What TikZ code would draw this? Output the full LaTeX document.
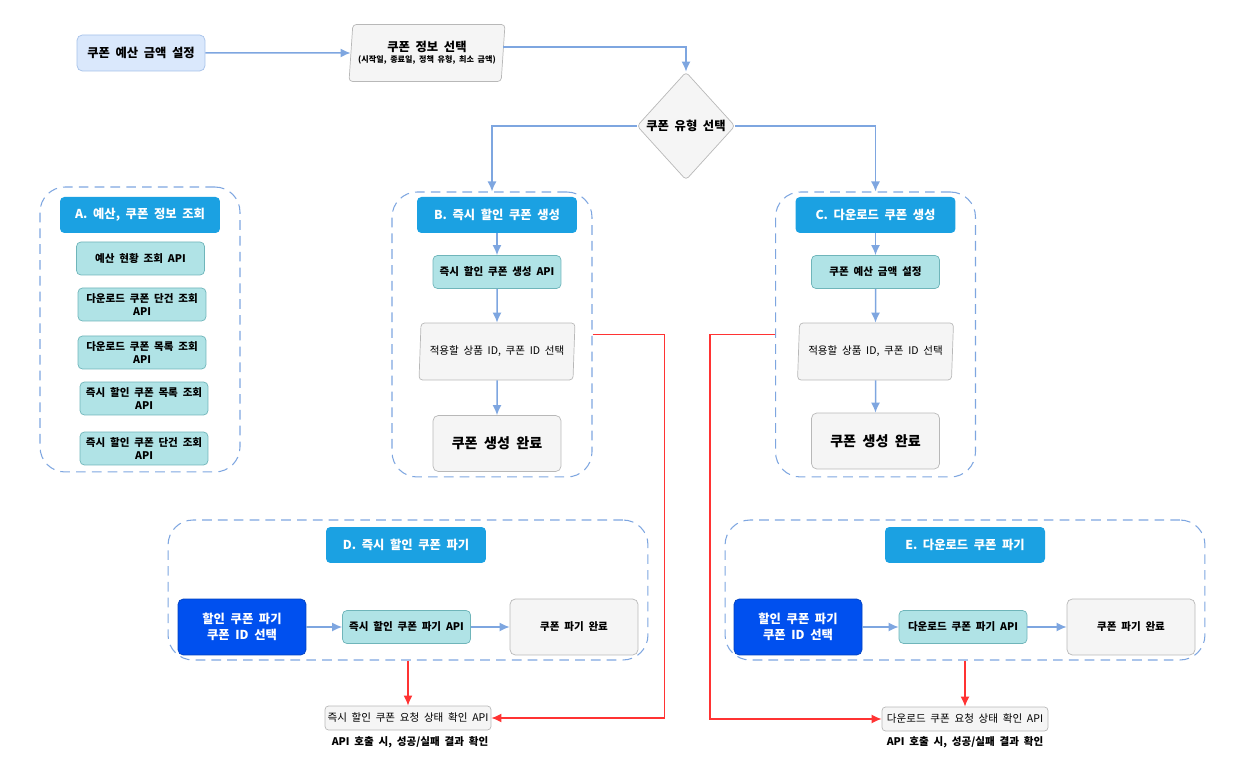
\documentclass[tikz,border=0pt]{standalone}
\usepackage{fontspec}
\setmainfont{Noto Sans CJK KR}[WordSpace=2]
\usepackage{tikz}
\usetikzlibrary{shapes.geometric, arrows.meta, positioning}

\definecolor{lineblue}{HTML}{7EA6E0}
\definecolor{boxblue}{HTML}{DAE8FC}
\definecolor{headblue}{HTML}{1BA1E2}
\definecolor{tealfill}{HTML}{B0E3E6}
\definecolor{tealline}{HTML}{6FB5BA}
\definecolor{grayfill}{HTML}{F5F5F5}
\definecolor{grayline}{HTML}{B8B8B8}
\definecolor{deepblue}{HTML}{0050EF}
\definecolor{alertred}{HTML}{FF3333}

\begin{document}
\begin{tikzpicture}[
    x=0.02cm, y=-0.02cm,
    every node/.style={font=\fontsize{6}{7.5}\selectfont\bfseries, inner sep=1pt, align=center},
    grp/.style={rectangle, rounded corners=0.5cm, draw=lineblue, line width=0.6pt,
                dash pattern=on 5.5pt off 3.5pt},
    head/.style={rectangle, rounded corners=2.5pt, fill=headblue, text=white,
                 minimum width=3.2cm, minimum height=0.72cm,
                 font=\fontsize{7}{8.5}\selectfont\bfseries},
    api/.style={rectangle, rounded corners=2.5pt, draw=tealline, fill=tealfill,
                minimum width=2.56cm, minimum height=0.66cm},
    done/.style={rectangle, rounded corners=3pt, draw=grayline, fill=grayfill,
                 minimum width=2.56cm, minimum height=1.12cm},
    pick/.style={rectangle, rounded corners=3pt, draw=deepblue!80!black, fill=deepblue,
                 text=white, minimum width=2.56cm, minimum height=1.12cm,
                 font=\fontsize{7}{9}\selectfont\bfseries},
    para/.style={trapezium, trapezium left angle=82, trapezium right angle=98,
                 trapezium stretches body, rounded corners=2pt, draw=grayline,
                 fill=grayfill, minimum width=3.12cm, minimum height=1.14cm},
    status/.style={rectangle, rounded corners=2pt, draw=grayline, fill=grayfill,
                   minimum width=3.32cm, minimum height=0.48cm,
                   font=\fontsize{6}{7.5}\selectfont},
    flow/.style={-{Latex[length=2mm, width=1.8mm]}, lineblue, line width=0.85pt},
    alert/.style={-{Latex[length=2mm, width=1.8mm]}, alertred, line width=0.85pt}
  ]
  \useasboundingbox (0,0) rectangle (1250,759);

  % Top row: budget, info and type choice
  \node[rectangle, rounded corners=3pt, draw=lineblue!70, fill=boxblue,
        minimum width=2.56cm, minimum height=0.72cm,
        font=\fontsize{7}{8.5}\selectfont\bfseries] (budget) at (141,53) {쿠폰 예산 금액 설정};
  \node[para] (info) at (427,53)
    {{\fontsize{7}{8.5}\selectfont 쿠폰 정보 선택}\\[-1pt]{\fontsize{4.6}{5.5}\selectfont (시작일, 종료일, 정책 유형, 최소 금액)}};
  \node[diamond, rounded corners=2pt, draw=grayline, fill=grayfill, inner sep=0pt,
        minimum width=1.96cm, minimum height=2.16cm,
        font=\fontsize{7}{8.5}\selectfont\bfseries] (type) at (686,126) {쿠폰 유형 선택};

  % Dashed groups
  \node[grp, minimum width=4cm, minimum height=5.7cm] (grpA) at (140,329.5) {};
  \node[grp, minimum width=4cm, minimum height=5.7cm] (grpB) at (492,334.5) {};
  \node[grp, minimum width=4cm, minimum height=5.7cm] (grpC) at (875.5,334.5) {};
  \node[grp, minimum width=9.6cm, minimum height=2.8cm] (grpD) at (408,590) {};
  \node[grp, minimum width=9.6cm, minimum height=2.8cm] (grpE) at (965,590) {};

  % Group A: lookup APIs
  \node[head] (headA) at (140,215) {A. 예산, 쿠폰 정보 조회};
  \node[api] (a1) at (140.5,258.5) {예산 현황 조회 API};
  \node[api] (a2) at (142,304.5) {다운로드 쿠폰 단건 조회\\API};
  \node[api] (a3) at (142,352.5) {다운로드 쿠폰 목록 조회\\API};
  \node[api] (a4) at (144,398.5) {즉시 할인 쿠폰 목록 조회\\API};
  \node[api] (a5) at (144,448.5) {즉시 할인 쿠폰 단건 조회\\API};

  % Group B: instant discount coupon
  \node[head] (headB) at (497,215) {B. 즉시 할인 쿠폰 생성};
  \node[api] (apiB) at (497,272) {즉시 할인 쿠폰 생성 API};
  \node[para, font=\fontsize{6}{7.5}\selectfont] (selB) at (497,351.5) {적용할 상품 ID, 쿠폰 ID 선택};
  \node[done, font=\fontsize{8}{9.5}\selectfont\bfseries] (doneB) at (497,443.5) {쿠폰 생성 완료};

  % Group C: download coupon
  \node[head] (headC) at (875.5,215) {C. 다운로드 쿠폰 생성};
  \node[api] (apiC) at (875.5,272) {쿠폰 예산 금액 설정};
  \node[para, font=\fontsize{6}{7.5}\selectfont] (selC) at (875.5,351.5) {적용할 상품 ID, 쿠폰 ID 선택};
  \node[done, font=\fontsize{8}{9.5}\selectfont\bfseries] (doneC) at (875.5,441) {쿠폰 생성 완료};

  % Group D: instant discount coupon removal
  \node[head] (headD) at (406,545) {D. 즉시 할인 쿠폰 파기};
  \node[pick] (pickD) at (242,627) {할인 쿠폰 파기\\쿠폰 ID 선택};
  \node[api] (apiD) at (406.5,627) {즉시 할인 쿠폰 파기 API};
  \node[done] (doneD) at (574,627) {쿠폰 파기 완료};

  % Group E: download coupon removal
  \node[head] (headE) at (965,545) {E. 다운로드 쿠폰 파기};
  \node[pick] (pickE) at (798,627) {할인 쿠폰 파기\\쿠폰 ID 선택};
  \node[api] (apiE) at (963,627) {다운로드 쿠폰 파기 API};
  \node[done] (doneE) at (1131,627) {쿠폰 파기 완료};

  % Status check APIs
  \node[status] (stD) at (408,718) {즉시 할인 쿠폰 요청 상태 확인 API};
  \node[status] (stE) at (965,719) {다운로드 쿠폰 요청 상태 확인 API};
  \node (noteD) at (410,742) {API 호출 시, 성공/실패 결과 확인};
  \node (noteE) at (965,742) {API 호출 시, 성공/실패 결과 확인};

  % Connections
  \draw[flow] (budget) -- (info);
  \draw[flow] ([yshift=0.12cm]info.east) -| (type.north);
  \draw[flow] (type.west) -| (grpB.north);
  \draw[flow] (type.east) -| (grpC.north);
  \draw[flow] (headB) -- (apiB);
  \draw[flow] (apiB) -- (selB);
  \draw[flow] (selB) -- (doneB);
  \draw[flow] (headC) -- (apiC);
  \draw[flow] (apiC) -- (selC);
  \draw[flow] (selC) -- (doneC);
  \draw[flow] (pickD) -- (apiD);
  \draw[flow] (apiD) -- (doneD);
  \draw[flow] (pickE) -- (apiE);
  \draw[flow] (apiE) -- (doneE);

  \draw[alert] (grpB.east) -- ++(72,0) |- (stD.east);
  \draw[alert] (grpC.west) -- ++(-65,0) |- (stE.west);
  \draw[alert] (grpD.south) -- (stD.north);
  \draw[alert] (grpE.south) -- (stE.north);

\end{tikzpicture}
\end{document}
